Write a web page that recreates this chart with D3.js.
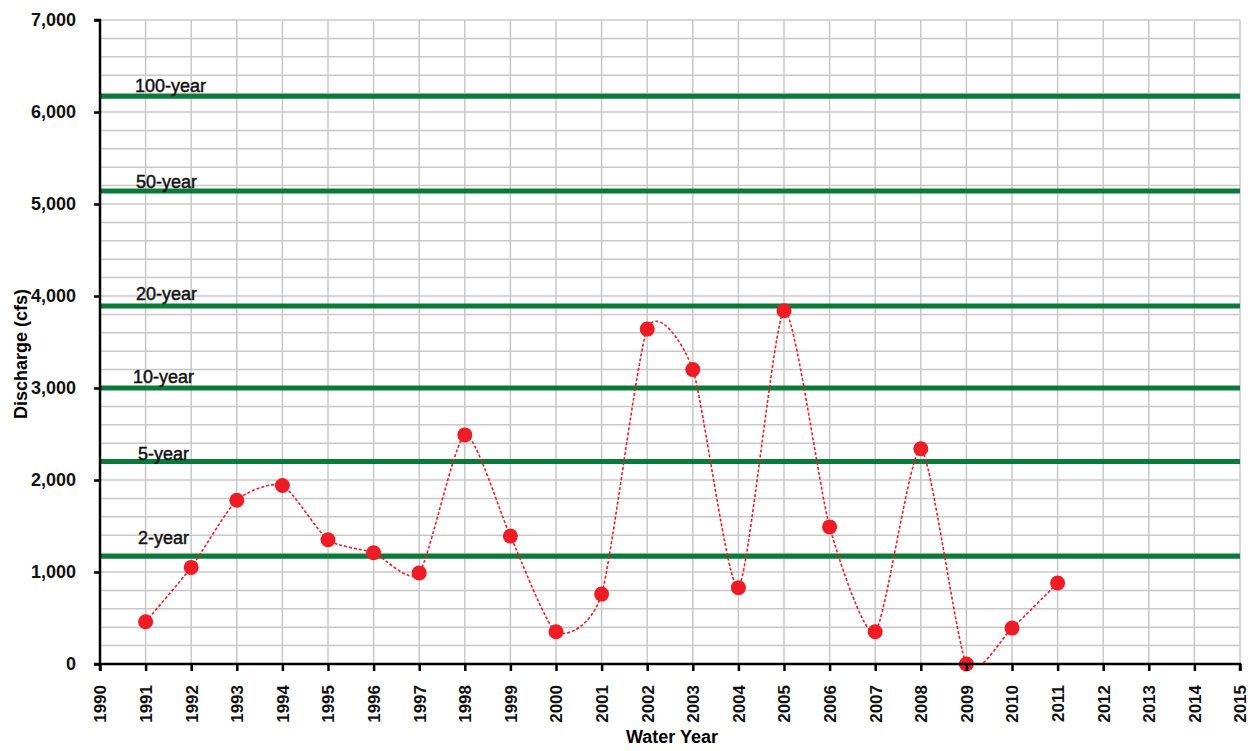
<!DOCTYPE html>
<html><head><meta charset="utf-8">
<script src="https://cdn.jsdelivr.net/npm/d3@7"></script>
<style>body{margin:0;background:#fff}svg{display:block}text{font-family:"Liberation Sans",Arial,sans-serif}</style>
</head><body><svg id="c" width="1254" height="751"></svg>
<script>
const years = [1991,1992,1993,1994,1995,1996,1997,1998,1999,2000,2001,2002,2003,2004,2005,2006,2007,2008,2009,2010,2011];
const discharge = [460,1050,1780,1940,1350,1210,990,2490,1390,350,760,3640,3200,830,3840,1490,350,2340,0,390,880];
const floodLabels = ["100-year","50-year","20-year","10-year","5-year","2-year"];
const floodValues = [6170,5140,3890,3000,2200,1170];
const xTicks = d3.range(1990,2016);
const yTicks = [0,1000,2000,3000,4000,5000,6000,7000];

const svg = d3.select("#c");
const L=100,R=1240,T=20,B=664;
const x = d3.scaleLinear().domain([1990,2015]).range([L,R]);
const y = d3.scaleLinear().domain([0,7000]).range([B,T]);

// grid
svg.append("g").selectAll("line").data(d3.range(200,7001,200)).join("line")
  .attr("x1",L).attr("x2",R).attr("y1",d=>y(d)).attr("y2",d=>y(d))
  .attr("stroke","#c8c8c8").attr("stroke-width",1.5);
svg.append("g").selectAll("line").data(xTicks.slice(1)).join("line")
  .attr("x1",d=>x(d)).attr("x2",d=>x(d)).attr("y1",T).attr("y2",B)
  .attr("stroke","#c8c8c8").attr("stroke-width",1.5);

// flood lines
svg.append("g").selectAll("line").data(floodValues).join("line")
  .attr("x1",L).attr("x2",R).attr("y1",d=>y(d)).attr("y2",d=>y(d))
  .attr("stroke","#0a7a3a").attr("stroke-width",5);
svg.append("g").selectAll("text").data(floodLabels).join("text")
  .attr("x",(d,i)=>[135,136,136,133,138,138][i])
  .attr("y",(d,i)=>y(floodValues[i])-[4,3,6,5,2,12][i])
  .attr("font-size",18).attr("fill","#111").attr("stroke","#111").attr("stroke-width",0.45)
  .text(d=>d);

// clip
svg.append("clipPath").attr("id","clip").append("rect").attr("x",L).attr("y",T).attr("width",R-L).attr("height",B-T);

const pts = years.map((yr,i)=>[yr,discharge[i]]);
svg.append("path").attr("clip-path","url(#clip)")
  .attr("d",d3.line().x(d=>x(d[0])).y(d=>y(d[1])).curve(d3.curveCardinal.tension(0.35))(pts))
  .attr("fill","none").attr("stroke","#ee1c25").attr("stroke-width",1.6).attr("stroke-dasharray","3,2");
svg.append("g").selectAll("circle").data(pts).join("circle")
  .attr("cx",d=>x(d[0])).attr("cy",d=>y(d[1])).attr("r",7.5).attr("fill","#ee1c25");

// axes
const ya = svg.append("g").attr("transform",`translate(${L},0)`)
  .call(d3.axisLeft(y).tickValues(yTicks).tickFormat(d3.format(",")).tickSize(6).tickPadding(18));
const xa = svg.append("g").attr("transform",`translate(0,${B})`)
  .call(d3.axisBottom(x).tickValues(xTicks).tickFormat(d=>String(d)).tickSize(7));
[ya,xa].forEach(a=>{
  a.select(".domain").attr("stroke","#000").attr("stroke-width",2.5);
  a.selectAll(".tick line").attr("stroke","#000").attr("stroke-width",2.5);
  a.selectAll("text").attr("font-size",18).attr("font-weight","bold").attr("fill","#111")
    .attr("font-family","'Liberation Sans',Arial,sans-serif");
});
ya.select(".domain").attr("d",`M-6,${B}H0V${T}H-6`);
xa.select(".domain").attr("d",`M${L},7V0H${R}V7`);
xa.selectAll(".tick text").attr("font-size",17).attr("transform","rotate(-90)").attr("text-anchor","end")
  .attr("x",-21).attr("y",0).attr("dy","0.35em");

svg.append("text").attr("x",672).attr("y",743).attr("text-anchor","middle")
  .attr("font-size",18).attr("font-weight","bold").text("Water Year");
svg.append("text").attr("transform",`translate(27,354) rotate(-90)`).attr("text-anchor","middle")
  .attr("font-size",18).attr("font-weight","bold").text("Discharge (cfs)");
</script></body></html>
